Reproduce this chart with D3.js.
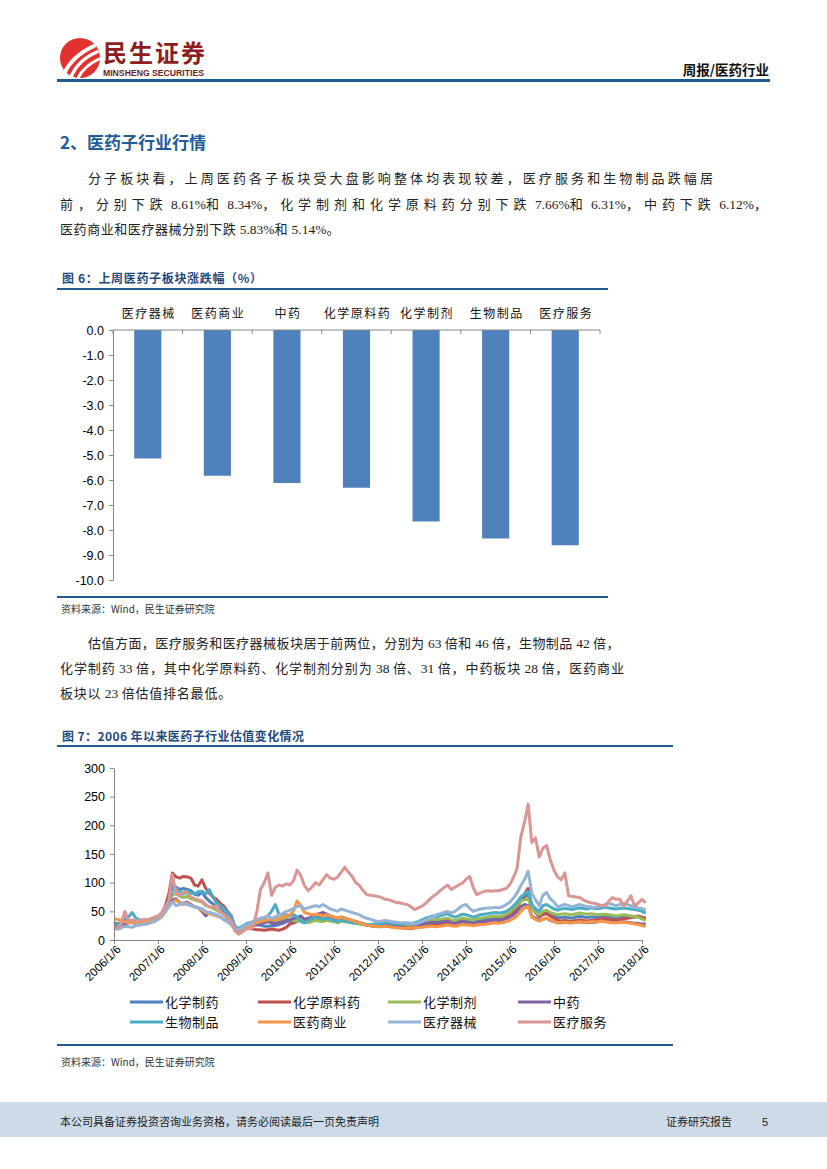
<!DOCTYPE html>
<html><head><meta charset="utf-8">
<script src="https://cdn.jsdelivr.net/npm/d3@7"></script>
<style>
body{margin:0;background:#fff;}
svg text{font-family:"Noto Sans CJK SC","Noto Sans",sans-serif;}
.num{font-family:"Liberation Sans",Arial,sans-serif !important;}
.lat{font-family:"Liberation Serif","Times New Roman",serif;}
</style></head><body>
<svg id="page" width="827" height="1169"></svg>
<script>
// ---------- DATA ----------
const barCategories = ["医疗器械","医药商业","中药","化学原料药","化学制剂","生物制品","医疗服务"];
const barValues = [-5.14,-5.83,-6.12,-6.31,-7.66,-8.34,-8.61];
const barTicks = [0,-1,-2,-3,-4,-5,-6,-7,-8,-9,-10];

const lineSeriesNames = ["化学制药","化学原料药","化学制剂","中药","生物制品","医药商业","医疗器械","医疗服务"];
const lineColors = ["#4F81BD","#C0504D","#9BBB59","#8064A2","#4BACC6","#F79646","#95B3D7","#D99694"];
const lineYTicks = [0,50,100,150,200,250,300];
const yearTickLabels = ["2006/1/6","2007/1/6","2008/1/6","2009/1/6","2010/1/6","2011/1/6","2012/1/6","2013/1/6","2014/1/6","2015/1/6","2016/1/6","2017/1/6","2018/1/6"];

// monthly PE values, 2006/1 .. 2018/2
const hxzy = [27,28,29,31,32,32,31,33,33,34,35,37, 39,45,56,72,95,92,88,90,88,86,80,78, 84,74,68,63,59,54,48,42,35,21,17,20, 23,24,25,26,26,24,24,25,25,27,29,32, 33,34,36,38,31,32,34,37,36,37,38,36, 34,32,35,34,33,31,30,29,27,26,25,25, 25,26,27,26,25,25,24,23,23,23,24,26, 28,30,31,32,31,32,34,35,32,31,33,35, 34,33,32,34,35,36,37,38,39,38,39,43, 46,52,58,68,75,80,57,48,42,47,49,45, 42,39,39,40,39,38,40,41,40,39,40,40, 40,41,41,40,39,38,39,40,40,40,40,41, 38,36];
const hxyly = [30,28,30,32,34,33,32,34,33,35,36,38, 40,46,58,80,117,110,108,111,110,108,96,94, 105,90,82,75,71,64,59,50,42,22,18,20, 21,20,19,18,18,17,18,19,18,17,19,22, 28,30,32,38,30,34,38,42,40,44,45,40, 38,36,40,38,36,34,32,30,28,26,25,24, 24,25,26,25,24,23,22,21,20,20,21,22, 23,24,26,28,27,28,30,31,29,28,30,32, 30,29,28,30,31,32,33,34,35,34,36,40, 44,50,56,68,80,90,60,48,40,44,46,42, 38,34,33,34,33,32,34,35,34,33,34,35, 36,37,38,36,35,34,36,37,38,39,40,42, 40,38];
const hxzj = [26,27,28,30,31,32,31,32,33,34,35,36, 38,44,54,66,78,82,76,74,76,72,70,68, 66,60,58,55,52,48,44,38,32,20,17,20, 24,26,28,30,30,31,32,33,32,34,36,38, 36,34,33,35,32,30,32,34,33,32,34,33, 32,30,33,32,31,30,29,28,27,26,26,26, 26,27,28,28,27,27,27,26,27,27,28,30, 32,34,35,36,35,36,37,38,35,34,36,38, 37,36,35,37,38,39,40,41,42,41,42,45, 48,55,60,68,70,72,55,48,44,50,52,48, 46,44,45,46,45,44,46,47,46,45,46,45, 44,45,45,44,43,42,43,44,43,42,41,40, 37,34];
const zy = [24,25,26,28,30,30,29,30,31,32,33,35, 38,42,52,62,70,72,65,64,66,62,58,56, 50,42,48,46,44,40,36,32,28,18,16,18, 22,24,26,28,28,30,32,30,28,30,32,34, 35,38,40,42,36,38,40,44,46,48,45,42, 40,38,40,38,36,34,32,30,28,27,26,25, 24,25,26,25,24,23,23,22,22,22,23,24, 26,28,30,31,30,31,32,33,30,29,31,33, 31,30,29,30,31,32,33,34,35,34,35,37, 40,44,50,58,62,60,42,38,34,36,38,34, 32,30,30,31,30,30,31,32,31,30,31,31, 32,33,33,32,31,30,31,32,31,30,29,29, 28,28];
const swzp = [27,28,30,36,40,48,38,35,33,32,34,36, 40,45,55,70,86,90,84,80,86,82,80,84, 85,80,88,75,65,60,55,48,40,24,20,24, 28,30,32,34,36,38,42,50,62,45,42,44, 42,44,40,32,30,34,38,40,38,36,38,36, 34,32,35,33,32,30,30,29,28,27,27,28, 28,29,30,30,29,28,28,28,29,29,30,32, 35,38,40,42,40,42,44,46,42,40,42,45, 44,42,40,42,44,45,46,47,48,47,48,50, 54,60,66,75,80,85,62,55,50,60,62,58, 54,52,54,55,54,53,55,56,55,54,56,55, 55,56,57,56,55,54,55,56,55,54,53,52, 50,47];
const yysy = [37,36,34,32,30,31,30,31,32,32,33,34, 36,40,48,58,66,70,64,62,64,60,58,56, 52,48,46,44,42,40,36,32,28,20,17,19, 22,25,28,30,32,34,35,36,35,38,40,42, 44,52,68,60,48,46,44,45,44,42,44,42, 40,38,40,38,36,34,32,30,28,26,25,24, 23,23,24,23,22,21,21,20,21,21,22,22, 22,23,24,24,23,24,25,26,25,24,25,27, 26,26,25,26,27,27,28,29,30,29,30,32, 34,38,42,50,56,58,40,36,33,36,38,35, 32,30,31,31,30,30,31,32,31,31,32,32, 32,33,32,31,30,30,31,31,30,29,28,27, 25,24];
const ylqx = [20,19,21,24,23,22,25,26,27,28,30,32, 36,42,50,58,66,60,62,64,62,60,58,56, 55,50,48,46,44,40,36,32,26,20,18,22, 26,28,32,36,38,40,42,38,40,44,46,50, 52,55,58,60,54,56,58,60,58,62,58,54, 52,50,54,52,50,48,46,44,40,38,36,34, 32,33,34,33,32,31,30,30,30,29,28,30, 32,35,38,40,44,46,48,50,47,50,55,60, 62,55,50,52,54,55,56,56,57,56,58,62, 66,74,82,95,105,120,82,70,60,78,83,72, 66,58,60,62,60,58,60,62,60,58,58,56, 58,60,62,64,62,60,62,64,62,60,58,56, 55,52];
const ylfw = [19,22,28,50,32,35,33,34,36,35,37,40, 42,48,58,68,114,80,78,84,82,75,72,70, 68,62,58,57,60,50,45,40,32,16,10,14, 19,20,22,50,88,100,117,78,92,96,94,98, 96,104,122,112,95,86,92,100,96,105,114,108, 106,110,118,127,118,111,100,95,86,79,78,77, 76,74,71,70,68,65,65,63,62,58,53,56, 59,64,70,76,80,86,91,96,88,92,96,99, 106,111,92,79,82,85,86,85,86,86,88,90, 97,110,125,180,205,237,170,178,145,160,165,140, 122,110,105,117,77,76,75,74,70,67,65,64, 62,60,59,68,74,71,71,59,68,77,59,65, 71,65];
const lineSeriesValues = [hxzy,hxyly,hxzj,zy,swzp,yysy,ylqx,ylfw];

// ---------- PAGE ----------
const svg = d3.select("#page");

// header logo
const logo = svg.append("g");
logo.append("circle").attr("cx",80).attr("cy",58).attr("r",20).attr("fill","#E1322F");
[["M64,74 Q72,56 94,46",4],["M71,77 Q78,60 97,52",3.5],["M78,78 Q84,66 99,59",3]].forEach(p=>{
  logo.append("path").attr("d",p[0]).attr("fill","none").attr("stroke","#fff").attr("stroke-width",p[1]).attr("stroke-linecap","round");
});
svg.append("text").attr("x",103).attr("y",62).attr("font-size",24).attr("font-weight","bold").attr("fill","#8E1D20").attr("textLength",102).text("民生证券");
svg.append("text").attr("x",103).attr("y",76).attr("class","num").attr("font-size",8.5).attr("font-weight","bold").attr("fill","#6B2224").attr("textLength",101).attr("lengthAdjust","spacingAndGlyphs").text("MINSHENG SECURITIES");
svg.append("text").attr("x",769).attr("y",75).attr("text-anchor","end").attr("font-size",13.5).attr("font-weight","bold").attr("fill","#111").text("周报/医药行业");
svg.append("rect").attr("x",57).attr("y",79).attr("width",713).attr("height",3).attr("fill","#1F5C93");

// section heading
svg.append("text").attr("x",60).attr("y",149).attr("font-size",17).attr("font-weight","bold").attr("fill","#1F5C99").text("2、医药子行业行情");

function para(lines){
  lines.forEach(([x0,y,x1,str])=>{
    const t = svg.append("text").attr("x",x0).attr("y",y).attr("font-size",13).attr("fill","#222");
    const parts = str.match(/[\x00-\x7F]+|[^\x00-\x7F]+/g);
    const spans = parts.map(p=>{
      const isLat = /[\x00-\x7F]/.test(p[0]);
      const s = t.append("tspan").text(p);
      if(isLat) s.attr("class","lat").attr("font-size",13.5);
      return {s,isLat,n:p.length};
    });
    const w = t.node().getComputedTextLength();
    const nC = spans.filter(o=>!o.isLat).reduce((a,o)=>a+o.n,0);
    const ls = Math.max(0,(x1-x0-w)/nC);
    spans.filter(o=>!o.isLat).forEach(o=>o.s.attr("letter-spacing",ls));
  });
}
para([
  [88,183,716,"分子板块看，上周医药各子板块受大盘影响整体均表现较差，医疗服务和生物制品跌幅居"],
  [60,209,772,"前，分别下跌 8.61%和 8.34%，化学制剂和化学原料药分别下跌 7.66%和 6.31%，中药下跌 6.12%，"],
  [60,234,340,"医药商业和医疗器械分别下跌 5.83%和 5.14%。"]
]);
para([
  [88,648,620,"估值方面，医疗服务和医疗器械板块居于前两位，分别为 63 倍和 46 倍，生物制品 42 倍，"],
  [60,673,625,"化学制药 33 倍，其中化学原料药、化学制剂分别为 38 倍、31 倍，中药板块 28 倍，医药商业"],
  [60,698,232,"板块以 23 倍估值排名最低。"]
]);

// figure titles and rules
function figTitle(x,y,w,t){
  svg.append("text").attr("x",x).attr("y",y).attr("font-size",12).attr("font-weight","bold").attr("fill","#1F497D").attr("textLength",w).text(t);
}
figTitle(62,283,200,"图 6：上周医药子板块涨跌幅（%）");
figTitle(62,741,242,"图 7：2006 年以来医药子行业估值变化情况");
[[289,608],[597,608],[746,673],[1045,673]].forEach(r=>{
  svg.append("rect").attr("x",57).attr("y",r[0]-1).attr("width",r[1]-57).attr("height",2).attr("fill","#1F5C93");
});
function source(y){
  svg.append("text").attr("x",61).attr("y",y).attr("font-size",10).attr("fill","#333").text("资料来源：Wind，民生证券研究院");
}
source(613); source(1066);

// ---------- BAR CHART ----------
const xb = d3.scaleBand().domain(barCategories).range([113,600]).paddingInner(0.61).paddingOuter(0.305);
const yb = d3.scaleLinear().domain([-10,0]).range([580,330]);
const gb = svg.append("g");
gb.selectAll("rect.bar").data(barValues).join("rect").attr("class","bar")
  .attr("x",(d,i)=>xb(barCategories[i])).attr("width",xb.bandwidth())
  .attr("y",yb(0)).attr("height",d=>yb(d)-yb(0)).attr("fill","#4F81BD");
const yAxisB = gb.append("g").attr("transform","translate(113,0)")
  .call(d3.axisLeft(yb).tickValues(barTicks).tickFormat(d=>d.toFixed(1)).tickSize(4).tickSizeOuter(0));
yAxisB.selectAll("text").attr("class","num").attr("font-size",12.5).attr("fill","#000").attr("dx",-2);
yAxisB.selectAll("line,path").attr("stroke","#868686");
const stepB = xb.step();
gb.append("line").attr("x1",113).attr("x2",600).attr("y1",yb(0)).attr("y2",yb(0)).attr("stroke","#868686");
d3.range(barCategories.length+1).forEach(i=>{
  const xx = 113 + i*stepB;
  gb.append("line").attr("x1",xx).attr("x2",xx).attr("y1",yb(0)).attr("y2",yb(0)+4).attr("stroke","#868686");
});
gb.selectAll("text.cat").data(barCategories).join("text").attr("class","cat")
  .attr("x",d=>xb(d)+xb.bandwidth()/2+1).attr("y",318).attr("text-anchor","middle")
  .attr("font-size",12).attr("letter-spacing",1.5).attr("fill","#111").text(d=>d);

// ---------- LINE CHART ----------
const dates = hxzy.map((_,i)=>new Date(2006,i,6));
const yearDates = yearTickLabels.map(s=>{const p=s.split("/");return new Date(+p[0],+p[1]-1,+p[2]);});
const xl = d3.scaleTime().domain([yearDates[0],yearDates[yearDates.length-1]]).range([114,642]);
const yl = d3.scaleLinear().domain([0,300]).range([940,768]);
const gl = svg.append("g");
const lineGen = d3.line().x((d,i)=>xl(dates[i])).y(d=>yl(d)).curve(d3.curveLinear);
lineSeriesValues.forEach((vals,k)=>{
  gl.append("path").datum(vals).attr("d",lineGen).attr("fill","none")
    .attr("stroke",lineColors[k]).attr("stroke-width",3).attr("stroke-linejoin","round");
});
const yAxisL = gl.append("g").attr("transform","translate(114,0)")
  .call(d3.axisLeft(yl).tickValues(lineYTicks).tickSize(4).tickSizeOuter(0));
yAxisL.selectAll("text").attr("class","num").attr("font-size",12.5).attr("fill","#000").attr("dx",-2);
yAxisL.selectAll("line,path").attr("stroke","#868686");
const xAxisL = gl.append("g").attr("transform","translate(0,940)")
  .call(d3.axisBottom(xl).tickValues(yearDates).tickFormat((d,i)=>yearTickLabels[i]).tickSize(4).tickSizeOuter(0));
gl.select("g").raise();
xAxisL.selectAll("line,path").attr("stroke","#868686");
xAxisL.selectAll("text").attr("class","num").attr("font-size",11.5).attr("fill","#000")
  .attr("text-anchor","end").attr("dy",0).attr("y",0)
  .attr("transform","translate(7,10) rotate(-45)");

// legend
const legX = [130,258,388,518];
lineSeriesNames.forEach((n,k)=>{
  const lx = legX[k%4], ly = k<4 ? 1002 : 1022;
  gl.append("line").attr("x1",lx).attr("x2",lx+33).attr("y1",ly).attr("y2",ly)
    .attr("stroke",lineColors[k]).attr("stroke-width",3);
  gl.append("text").attr("x",lx+35).attr("y",ly+4.5).attr("font-size",13).attr("letter-spacing",0.5).attr("fill","#111").text(n);
});

// footer
svg.append("rect").attr("x",0).attr("y",1102).attr("width",827).attr("height",35).attr("fill","#CDDBE9");
svg.append("text").attr("x",60).attr("y",1126).attr("font-size",11).attr("fill","#222").text("本公司具备证券投资咨询业务资格，请务必阅读最后一页免责声明");
svg.append("text").attr("x",666).attr("y",1126).attr("font-size",11).attr("fill","#222").text("证券研究报告");
svg.append("text").attr("x",762).attr("y",1126).attr("font-size",11).attr("fill","#222").attr("class","num").text("5");
</script>
</body></html>
